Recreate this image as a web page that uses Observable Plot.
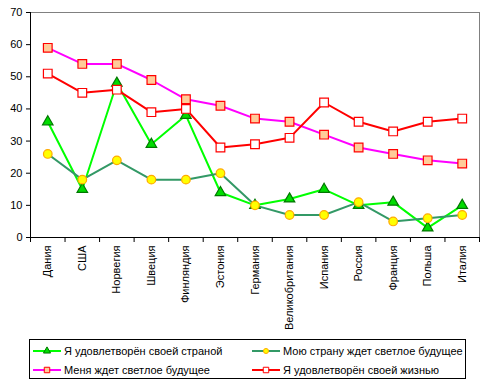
<!DOCTYPE html>
<html><head><meta charset="utf-8">
<script src="https://cdn.jsdelivr.net/npm/d3@7"></script>
<script src="https://cdn.jsdelivr.net/npm/@observablehq/plot@0.6"></script>
<style>
body{margin:0;background:#fff;font-family:"Liberation Sans",Arial,sans-serif;}
#chart{position:absolute;left:0;top:0;}
#legend{position:absolute;left:29px;top:339px;width:435px;height:38px;border:1px solid #000;font-size:11px;color:#000;}
.item{position:absolute;display:flex;align-items:center;white-space:nowrap;height:14px;}
.item svg{margin-right:2px;}
</style></head><body><div id="chart"></div><div id="legend"></div>
<script>
const countries = ["Дания","США","Норвегия","Швеция","Финляндия","Эстония","Германия","Великобритания","Испания","Россия","Франция","Польша","Италия"];
const satisfiedCountry = [36,15,48,29,38,14,10,12,15,10,11,3,10];
const countryFuture = [26,18,24,18,18,20,10,7,7,11,5,6,7];
const myFuture = [59,54,54,49,43,41,37,36,32,28,26,24,23];
const satisfiedLife = [51,45,46,39,40,28,29,31,42,36,33,36,37];
const yTicks = [0,10,20,30,40,50,60,70];
const seriesNames = ["Я удовлетворён своей страной","Моя страну ждет светлое будущее","Меня ждет светлое будущее","Я удовлетворён своей жизнью"];
const legendNames = ["Я удовлетворён своей страной","Мою страну ждет светлое будущее","Меня ждет светлое будущее","Я удовлетворён своей жизнью"];

const series = [
  {name: seriesNames[0], legend: legendNames[0], values: satisfiedCountry, line:"#00FF00", symbol:"triangle", fill:"#00DD00", stroke:"#007700", r:3.9},
  {name: seriesNames[1], legend: legendNames[1], values: countryFuture, line:"#339966", symbol:"circle", fill:"#FFFF00", stroke:"#FFAA00", r:4.3},
  {name: seriesNames[2], legend: legendNames[2], values: myFuture, line:"#FF00FF", symbol:"square", fill:"#FFCC99", stroke:"#FF0000", r:4.9},
  {name: seriesNames[3], legend: legendNames[3], values: satisfiedLife, line:"#FF0000", symbol:"square", fill:"#FFFFFF", stroke:"#FF0000", r:4.9}
];

const idx = countries.map((c, i) => i);
const boundaries = countries.map((c, i) => i - 0.5).concat([countries.length - 0.5]);
const xMin = -0.5, xMax = countries.length - 0.5;

const marks = [Plot.frame({stroke:"#808080"})];
for (const s of series) {
  const data = s.values.map((v, i) => ({i, v}));
  marks.push(Plot.line(data, {x:"i", y:"v", stroke:s.line, strokeWidth:2}));
}
for (const s of series) {
  const data = s.values.map((v, i) => ({i, v}));
  marks.push(Plot.dot(data, {x:"i", y:"v", symbol:s.symbol, r:s.r, fill:s.fill, stroke:s.stroke, strokeWidth:1.2}));
}
marks.push(Plot.ruleY([0], {stroke:"#000"}));
marks.push(Plot.ruleX([xMin], {stroke:"#000"}));
marks.push(Plot.ruleX(boundaries, {y1:0, y2:0, insetBottom:-5, stroke:"#000"}));

const chart = Plot.plot({
  width:493, height:335,
  marginLeft:30, marginRight:14, marginTop:12, marginBottom:98,
  style:{fontFamily:"'Liberation Sans', Arial, sans-serif", fontSize:"11px", color:"#000", background:"#fff", overflow:"visible"},
  x:{type:"linear", domain:[xMin, xMax], ticks:idx, tickFormat:i => countries[i], tickRotate:-90, tickSize:0, tickPadding:8, label:null},
  y:{domain:[0,70], ticks:yTicks, tickSize:4, tickPadding:4, label:null},
  marks
});
document.getElementById("chart").appendChild(chart);

// legend
const legend = document.getElementById("legend");
const pos = [[3,4],[222,4],[3,23],[222,23]];
series.forEach((s, k) => {
  const item = document.createElement("div");
  item.className = "item";
  item.style.left = pos[k][0] + "px";
  item.style.top = pos[k][1] + "px";
  const svg = d3.create("svg").attr("width", 29).attr("height", 14);
  svg.append("line").attr("x1",0).attr("x2",28).attr("y1",7).attr("y2",7).attr("stroke",s.line).attr("stroke-width",2);
  const sym = s.symbol === "triangle" ? d3.symbolTriangle : s.symbol === "circle" ? d3.symbolCircle : d3.symbolSquare;
  const size = s.symbol === "circle" ? 20 : s.symbol === "triangle" ? 22 : 30;
  svg.append("path").attr("d", d3.symbol(sym, size)()).attr("transform","translate(14,7)")
    .attr("fill", s.fill).attr("stroke", s.stroke).attr("stroke-width",1);
  item.appendChild(svg.node());
  const t = document.createElement("span");
  t.textContent = s.legend;
  item.appendChild(t);
  legend.appendChild(item);
});
</script>
</body></html>
